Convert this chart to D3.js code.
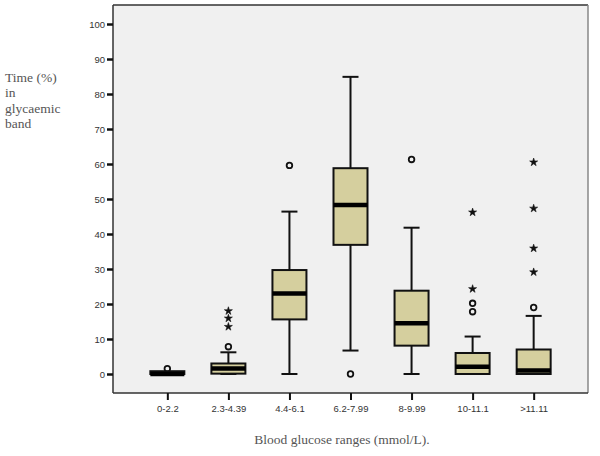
<!DOCTYPE html>
<html lang="en">
<head>
<meta charset="UTF-8">
<title>Time in glycaemic band</title>
<script src="https://d3js.org/d3.v7.min.js"></script>
<style>
  body { margin: 0; background: #fff; }
</style>
</head>
<body>
<script>
// categories and box statistics
var categories = ["0-2.2", "2.3-4.39", "4.4-6.1", "6.2-7.99", "8-9.99", "10-11.1", ">11.11"];
var whiskerLow  = [0,   0,    0,    6.7,  0,    0,    0];
var q1          = [0,   0.1,  15.6, 36.9, 8.1,  0,    0];
var median      = [0,   1.6,  23.0, 48.3, 14.5, 2.1,  1.0];
var q3          = [0.8, 3.0,  29.7, 58.8, 23.8, 6.0,  7.0];
var whiskerHigh = [0.8, 6.2,  46.4, 84.9, 41.8, 10.7, 16.6];
// outliers (circles) and extremes (stars), per category
var outliers = [[1.5], [7.8], [59.6], [0], [61.3], [17.8, 20.2], [19.0]];
var extremes = [[], [13.5, 15.9, 18.0], [], [], [], [24.3, 46.2], [29.1, 35.9, 47.3, 60.5]];
var yTicks = [0, 10, 20, 30, 40, 50, 60, 70, 80, 90, 100];

var W = 600, H = 456;
var plotLeft = 113, plotRight = 588, plotTop = 5, plotBottom = 393;

var svg = d3.select("body").append("svg")
    .attr("width", W)
    .attr("height", H);

var x = d3.scalePoint().domain(categories).range([plotLeft, plotRight]).padding(0.89);
var y = d3.scaleLinear().domain([-5.43, 105.43]).range([plotBottom, plotTop]);

// plot background
svg.append("rect")
    .attr("x", plotLeft).attr("y", plotTop)
    .attr("width", plotRight - plotLeft).attr("height", plotBottom - plotTop)
    .attr("fill", "#f0f0f0");

// frame: top and right
svg.append("line").attr("x1", plotLeft).attr("x2", plotRight).attr("y1", plotTop).attr("y2", plotTop)
    .attr("stroke", "#333").attr("stroke-width", 1.5);
svg.append("line").attr("x1", plotRight).attr("x2", plotRight).attr("y1", plotTop).attr("y2", plotBottom)
    .attr("stroke", "#888").attr("stroke-width", 1.5);

// y axis
var yAxis = svg.append("g")
    .attr("transform", "translate(" + plotLeft + ",0)")
    .call(d3.axisLeft(y).tickValues(yTicks).tickSize(6).tickSizeOuter(0).tickPadding(2));
yAxis.select(".domain").attr("stroke", "#333").attr("stroke-width", 1.5)
    .attr("d", "M0," + plotTop + "V" + plotBottom);
yAxis.selectAll(".tick line").attr("stroke", "#111").attr("stroke-width", 2.5);
yAxis.selectAll(".tick text").attr("fill", "#333")
    .style("font-family", "Liberation Sans, Arial, sans-serif").style("font-size", "9.5px");

// x axis
var xAxis = svg.append("g")
    .attr("transform", "translate(0," + plotBottom + ")")
    .call(d3.axisBottom(x).tickSize(7).tickSizeOuter(0).tickPadding(5));
xAxis.select(".domain").attr("stroke", "#333").attr("stroke-width", 1.5)
    .attr("d", "M" + plotLeft + ",0H" + plotRight);
xAxis.selectAll(".tick line").attr("stroke", "#111").attr("stroke-width", 2);
xAxis.selectAll(".tick text").attr("fill", "#333")
    .style("font-family", "Liberation Sans, Arial, sans-serif").style("font-size", "9.5px");

// boxes
var boxW = 34, capW = 16;
var data = categories.map(function(c, i) {
  return { cat: c, lo: whiskerLow[i], q1: q1[i], med: median[i], q3: q3[i], hi: whiskerHigh[i],
           out: outliers[i], ext: extremes[i] };
});

var g = svg.selectAll(".box").data(data).enter().append("g").attr("class", "box");

// whiskers
g.append("line")
    .attr("x1", function(d) { return x(d.cat); }).attr("x2", function(d) { return x(d.cat); })
    .attr("y1", function(d) { return y(d.hi); }).attr("y2", function(d) { return y(d.q3); })
    .attr("stroke", "#111").attr("stroke-width", 2);
g.append("line")
    .attr("x1", function(d) { return x(d.cat); }).attr("x2", function(d) { return x(d.cat); })
    .attr("y1", function(d) { return y(d.q1); }).attr("y2", function(d) { return y(d.lo); })
    .attr("stroke", "#111").attr("stroke-width", 2);
g.filter(function(d) { return d.hi > d.q3; }).append("line")
    .attr("x1", function(d) { return x(d.cat) - capW / 2; }).attr("x2", function(d) { return x(d.cat) + capW / 2; })
    .attr("y1", function(d) { return y(d.hi); }).attr("y2", function(d) { return y(d.hi); })
    .attr("stroke", "#111").attr("stroke-width", 2);
g.filter(function(d) { return d.lo < d.q1; }).append("line")
    .attr("x1", function(d) { return x(d.cat) - capW / 2; }).attr("x2", function(d) { return x(d.cat) + capW / 2; })
    .attr("y1", function(d) { return y(d.lo); }).attr("y2", function(d) { return y(d.lo); })
    .attr("stroke", "#111").attr("stroke-width", 2);

// outlier circles and extreme stars (drawn under the boxes)
g.each(function(d) {
  d3.select(this).selectAll(".out").data(d.out).enter().append("circle")
      .attr("class", "out")
      .attr("cx", x(d.cat)).attr("cy", function(v) { return y(v); })
      .attr("r", 2.8)
      .attr("fill", "none").attr("stroke", "#111").attr("stroke-width", 1.8);
  d3.select(this).selectAll(".ext").data(d.ext).enter().append("path")
      .attr("class", "ext")
      .attr("transform", function(v) { return "translate(" + x(d.cat) + "," + y(v) + ")"; })
      .attr("d", d3.symbol().type(d3.symbolStar).size(20))
      .attr("fill", "#111").attr("stroke", "#111").attr("stroke-width", 0.6);
});

// box body
g.append("rect")
    .attr("x", function(d) { return x(d.cat) - boxW / 2; })
    .attr("y", function(d) { return y(d.q3); })
    .attr("width", boxW)
    .attr("height", function(d) { return Math.max(1, y(d.q1) - y(d.q3)); })
    .attr("fill", "#d5cf9e")
    .attr("stroke", "#111").attr("stroke-width", 2);

// median
g.append("line")
    .attr("x1", function(d) { return x(d.cat) - boxW / 2; }).attr("x2", function(d) { return x(d.cat) + boxW / 2; })
    .attr("y1", function(d) { return y(d.med); }).attr("y2", function(d) { return y(d.med); })
    .attr("stroke", "#000").attr("stroke-width", 4.5);

// axis titles
var yLabel = ["Time (%)", "in", "glycaemic", "band"];
svg.append("g").selectAll("text").data(yLabel).enter().append("text")
    .attr("x", 5)
    .attr("y", function(d, i) { return 82 + i * 15.3; })
    .text(function(d) { return d; })
    .attr("fill", "#555")
    .style("font-family", "Liberation Serif, Times New Roman, serif")
    .style("font-size", "13.5px");

svg.append("text")
    .attr("x", 342).attr("y", 444)
    .attr("text-anchor", "middle")
    .text("Blood glucose ranges (mmol/L).")
    .attr("fill", "#555")
    .style("font-family", "Liberation Serif, Times New Roman, serif")
    .style("font-size", "13.5px");
</script>
</body>
</html>
